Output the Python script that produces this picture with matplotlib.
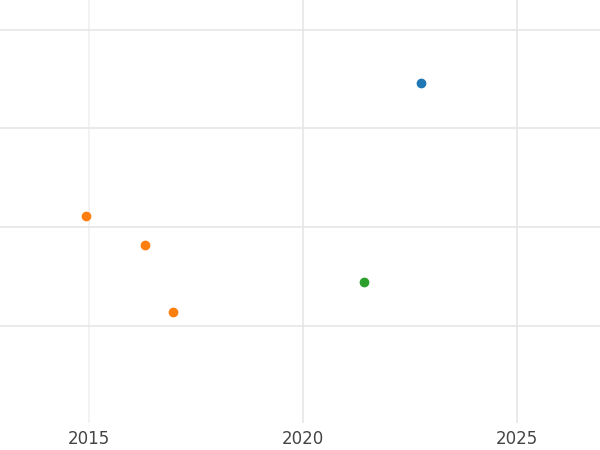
import matplotlib

matplotlib.use("Agg")
import matplotlib.pyplot as plt

# data
blue_x = [2022.76]
blue_y = [3.46]
orange_x = [2014.93, 2016.31, 2016.96]
orange_y = [2.11, 1.82, 1.14]
green_x = [2021.43]
green_y = [1.45]
x_ticks = [2015, 2020, 2025]
y_grid = [1, 2, 3, 4]

fig = plt.figure(figsize=(6, 4.5), dpi=100)
ax = fig.add_axes([0, 0.06, 1, 0.94])
ax.scatter(blue_x, blue_y, s=36, color="#1f77b4", zorder=3)
ax.scatter(orange_x, orange_y, s=36, color="#ff7f0e", zorder=3)
ax.scatter(green_x, green_y, s=36, color="#2ca02c", zorder=3)

ax.set_xlim(2012.92, 2026.94)
ax.set_ylim(0.02, 4.3)
ax.set_xticks(x_ticks)
ax.set_yticks(y_grid)
ax.set_yticklabels([])
ax.tick_params(length=0, labelsize=12, labelcolor="#444444", pad=5)
ax.grid(color="#e6e6e6", lw=1.2)
ax.get_xgridlines()[0].set_color("#f0f0f0")
for s in ax.spines.values():
    s.set_visible(False)

fig.savefig("out.png")
